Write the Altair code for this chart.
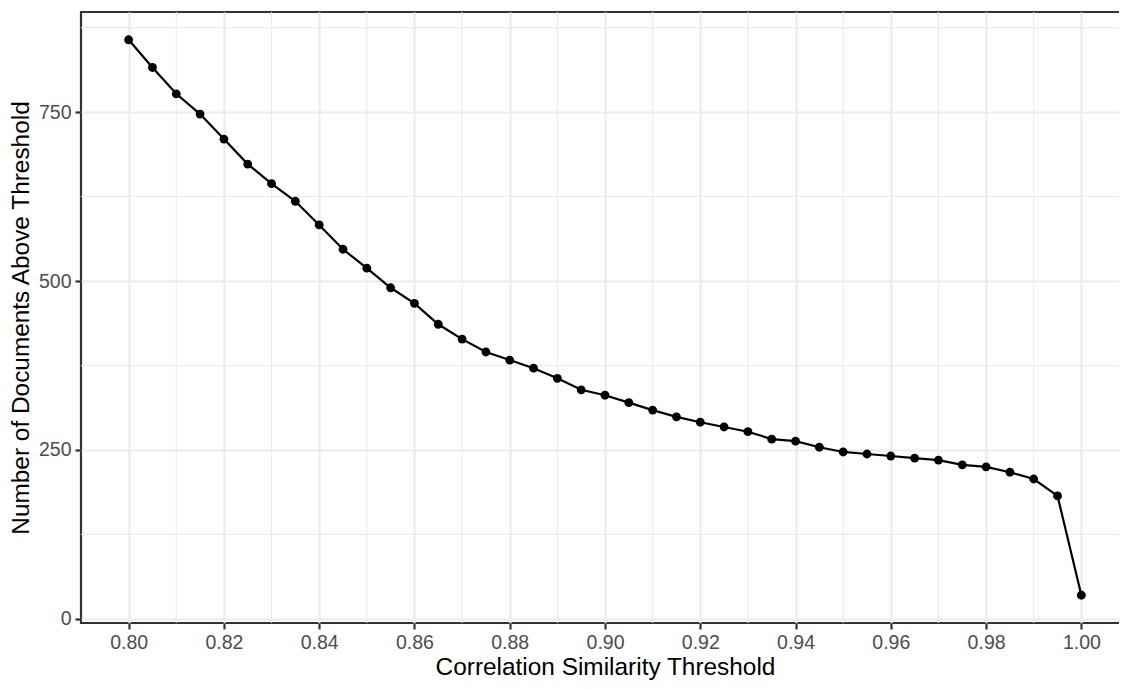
import altair as alt
import pandas as pd

# ---- data ----
thresholds = [0.800, 0.805, 0.810, 0.815, 0.820, 0.825, 0.830, 0.835, 0.840, 0.845,
              0.850, 0.855, 0.860, 0.865, 0.870, 0.875, 0.880, 0.885, 0.890, 0.895,
              0.900, 0.905, 0.910, 0.915, 0.920, 0.925, 0.930, 0.935, 0.940, 0.945,
              0.950, 0.955, 0.960, 0.965, 0.970, 0.975, 0.980, 0.985, 0.990, 0.995,
              1.000]
documents = [857, 816, 777, 747, 710, 673, 644, 618, 583, 547,
             519, 490, 467, 436, 414, 395, 383, 371, 356, 339,
             331, 320, 309, 299, 291, 284, 277, 266, 263, 254,
             247, 244, 241, 238, 235, 228, 225, 217, 207, 182,
             35]

x_major = [0.80, 0.82, 0.84, 0.86, 0.88, 0.90, 0.92, 0.94, 0.96, 0.98, 1.00]
x_minor = [0.81, 0.83, 0.85, 0.87, 0.89, 0.91, 0.93, 0.95, 0.97, 0.99]
y_major = [0, 250, 500, 750]
y_minor = [125, 375, 625, 875]

title_text = ["Number of Documents per Correlation Similarity (0.80\u20131.00)"]

x_title = "Correlation Similarity Threshold"
y_title = "Number of Documents Above Threshold"

df = pd.DataFrame({"threshold": thresholds, "documents": documents})
df_xminor = pd.DataFrame({"threshold": x_minor})
df_yminor = pd.DataFrame({"documents": y_minor})
df_title = pd.DataFrame({"label": title_text})

FONT = "Liberation Sans"
GRID = "#EBEBEB"
DARK = "#333333"
LW = 2.2

xscale = alt.Scale(domain=[0.79, 1.01], nice=False, zero=False)
yscale = alt.Scale(domain=[-6.1, 898.1], nice=False, zero=False)

xaxis = alt.Axis(values=x_major, format=".2f", title=x_title)
yaxis = alt.Axis(values=y_major, format="d", title=y_title)

minor_x = alt.Chart(df_xminor).mark_rule(color=GRID, strokeWidth=1.1).encode(
    x=alt.X("threshold:Q", scale=xscale, axis=xaxis)
)
minor_y = alt.Chart(df_yminor).mark_rule(color=GRID, strokeWidth=1.1).encode(
    y=alt.Y("documents:Q", scale=yscale, axis=yaxis)
)

base = alt.Chart(df).encode(
    x=alt.X("threshold:Q", scale=xscale, axis=xaxis),
    y=alt.Y("documents:Q", scale=yscale, axis=yaxis),
)
line = base.mark_line(color="black", strokeWidth=LW)
points = base.mark_circle(color="black", size=78, opacity=1)

title_mark = alt.Chart(df_title).mark_text(
    align="left", baseline="alphabetic", fontSize=29, font=FONT, color="black"
).encode(
    text="label:N",
    x=alt.value(0),
    y=alt.value(-14),
)

chart = alt.layer(minor_x, minor_y, line, points, title_mark).properties(
    width=1048,
    height=611,
    autosize=alt.AutoSizeParams(type="none"),
    padding={"left": 73, "top": 4, "right": -10, "bottom": 58},
).configure_view(
    stroke=DARK, strokeWidth=LW
).configure_axis(
    domain=False,
    grid=True,
    gridColor=GRID,
    gridWidth=LW,
    tickColor=DARK,
    tickWidth=LW,
    tickSize=6,
    labelFont=FONT,
    labelFontSize=19.5,
    labelColor="#4D4D4D",
    titleFont=FONT,
    titleFontSize=24.4,
    titleFontWeight="normal",
    titleColor="black",
    labelPadding=4,
).configure_axisX(
    titlePadding=4,
).configure_axisY(
    titlePadding=5,
)

chart.save("out.html", embed_options={"renderer": "svg", "actions": False})
